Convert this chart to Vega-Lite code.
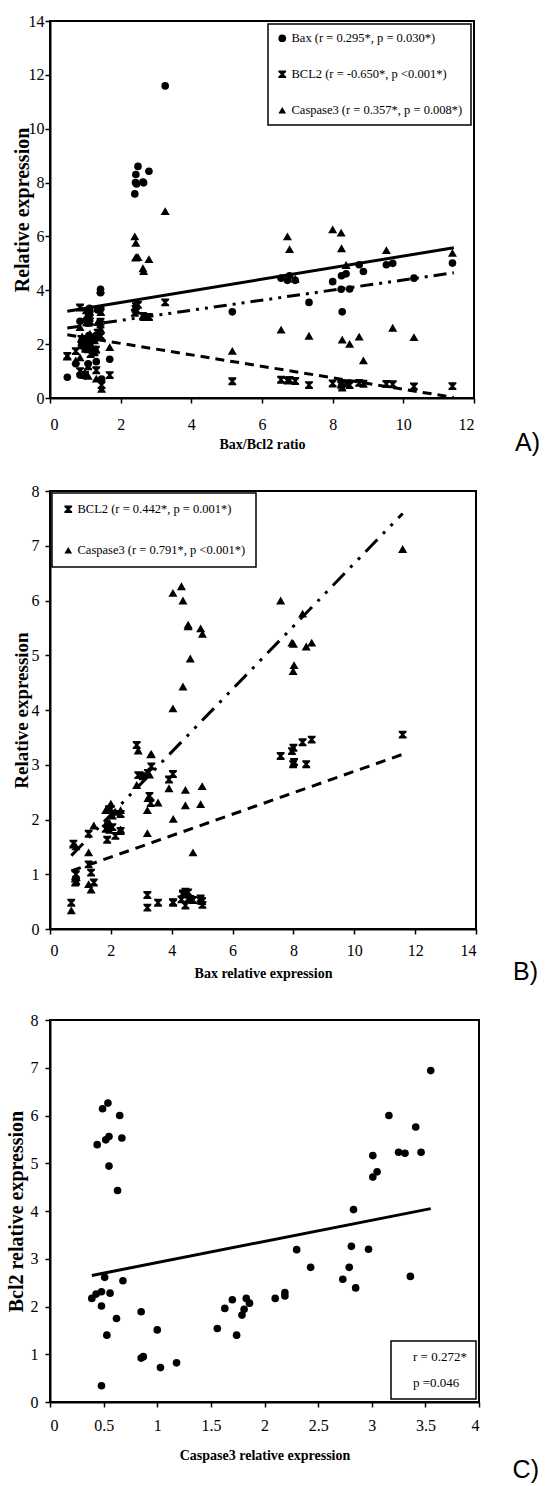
{
  "$schema": "https://vega.github.io/schema/vega-lite/v6.json",
  "background": "white",
  "padding": {"left": 5, "top": 12, "right": 0, "bottom": 0},
  "config": {
    "font": "Liberation Serif",
    "view": {"stroke": "black", "strokeWidth": 2},
    "axis": {"grid": false, "domainColor": "black", "domainWidth": 2, "tickColor": "black", "tickSize": 5, "tickWidth": 1.5, "labelFont": "Liberation Serif", "labelFontSize": 16, "labelColor": "black", "titleFont": "Liberation Serif", "titleFontWeight": "bold", "titleColor": "black"},
    "legend": {"title": null, "strokeColor": "black", "strokeWidth": 1.5, "fillColor": "white", "labelFont": "Liberation Serif", "labelFontSize": 12.5, "labelColor": "black", "symbolFillColor": "black", "symbolStrokeColor": "black", "symbolStrokeWidth": 0, "labelOffset": 3, "labelLimit": 400},
    "title": {"font": "Liberation Sans", "fontSize": 25, "fontWeight": "normal", "color": "black"}
  },
  "datasets": {
    "patients": [
      {"Bax": 11.59, "BCL2": 3.55, "Caspase3": 6.94, "ratio": 3.26},
      {"Bax": 7.58, "BCL2": 3.16, "Caspase3": 6.0, "ratio": 2.40},
      {"Bax": 8.30, "BCL2": 3.41, "Caspase3": 5.76, "ratio": 2.43},
      {"Bax": 7.95, "BCL2": 3.25, "Caspase3": 5.23, "ratio": 2.45},
      {"Bax": 8.00, "BCL2": 3.31, "Caspase3": 5.21, "ratio": 2.42},
      {"Bax": 8.60, "BCL2": 3.46, "Caspase3": 5.23, "ratio": 2.49},
      {"Bax": 8.42, "BCL2": 3.01, "Caspase3": 5.16, "ratio": 2.80},
      {"Bax": 8.02, "BCL2": 3.05, "Caspase3": 4.82, "ratio": 2.63},
      {"Bax": 7.99, "BCL2": 3.01, "Caspase3": 4.71, "ratio": 2.65},
      {"Bax": 4.37, "BCL2": 0.63, "Caspase3": 4.43, "ratio": 6.94},
      {"Bax": 4.61, "BCL2": 0.55, "Caspase3": 4.94, "ratio": 8.38},
      {"Bax": 4.95, "BCL2": 0.52, "Caspase3": 5.49, "ratio": 9.52},
      {"Bax": 4.54, "BCL2": 0.55, "Caspase3": 5.56, "ratio": 8.25},
      {"Bax": 4.54, "BCL2": 0.67, "Caspase3": 5.53, "ratio": 6.78},
      {"Bax": 5.01, "BCL2": 0.44, "Caspase3": 5.39, "ratio": 11.39},
      {"Bax": 4.04, "BCL2": 0.49, "Caspase3": 6.14, "ratio": 8.24},
      {"Bax": 4.32, "BCL2": 0.54, "Caspase3": 6.26, "ratio": 8.00},
      {"Bax": 4.37, "BCL2": 0.65, "Caspase3": 6.0, "ratio": 6.72},
      {"Bax": 3.20, "BCL2": 0.62, "Caspase3": 1.75, "ratio": 5.16},
      {"Bax": 4.45, "BCL2": 0.68, "Caspase3": 2.54, "ratio": 6.54},
      {"Bax": 3.55, "BCL2": 0.48, "Caspase3": 2.31, "ratio": 7.33},
      {"Bax": 3.20, "BCL2": 0.39, "Caspase3": 2.17, "ratio": 8.27},
      {"Bax": 4.05, "BCL2": 0.48, "Caspase3": 2.01, "ratio": 8.48},
      {"Bax": 4.95, "BCL2": 0.56, "Caspase3": 2.28, "ratio": 8.75},
      {"Bax": 4.70, "BCL2": 0.53, "Caspase3": 1.40, "ratio": 8.87},
      {"Bax": 5.00, "BCL2": 0.51, "Caspase3": 2.61, "ratio": 9.70},
      {"Bax": 4.45, "BCL2": 0.43, "Caspase3": 2.26, "ratio": 10.30},
      {"Bax": 4.04, "BCL2": 2.83, "Caspase3": 4.03, "ratio": 1.43},
      {"Bax": 2.90, "BCL2": 2.81, "Caspase3": 3.26, "ratio": 1.03},
      {"Bax": 3.33, "BCL2": 2.97, "Caspase3": 3.20, "ratio": 1.12},
      {"Bax": 3.05, "BCL2": 2.79, "Caspase3": 2.82, "ratio": 1.09},
      {"Bax": 3.91, "BCL2": 2.73, "Caspase3": 2.57, "ratio": 1.43},
      {"Bax": 3.22, "BCL2": 2.85, "Caspase3": 2.39, "ratio": 1.13},
      {"Bax": 2.85, "BCL2": 3.36, "Caspase3": 2.63, "ratio": 0.85},
      {"Bax": 3.31, "BCL2": 2.30, "Caspase3": 3.19, "ratio": 1.44},
      {"Bax": 3.27, "BCL2": 2.43, "Caspase3": 2.82, "ratio": 1.35},
      {"Bax": 2.00, "BCL2": 2.19, "Caspase3": 2.29, "ratio": 0.91},
      {"Bax": 1.94, "BCL2": 2.19, "Caspase3": 2.22, "ratio": 0.89},
      {"Bax": 2.32, "BCL2": 2.10, "Caspase3": 2.17, "ratio": 1.10},
      {"Bax": 1.83, "BCL2": 1.83, "Caspase3": 2.17, "ratio": 1.00},
      {"Bax": 2.05, "BCL2": 1.86, "Caspase3": 2.07, "ratio": 1.10},
      {"Bax": 1.95, "BCL2": 1.81, "Caspase3": 1.94, "ratio": 1.08},
      {"Bax": 2.32, "BCL2": 1.79, "Caspase3": 1.82, "ratio": 1.30},
      {"Bax": 2.15, "BCL2": 1.70, "Caspase3": 2.14, "ratio": 1.26},
      {"Bax": 1.88, "BCL2": 1.63, "Caspase3": 1.96, "ratio": 1.15},
      {"Bax": 1.27, "BCL2": 1.74, "Caspase3": 1.40, "ratio": 0.73},
      {"Bax": 0.77, "BCL2": 1.56, "Caspase3": 1.54, "ratio": 0.49},
      {"Bax": 1.27, "BCL2": 1.18, "Caspase3": 0.82, "ratio": 1.08},
      {"Bax": 1.35, "BCL2": 1.03, "Caspase3": 0.72, "ratio": 1.31},
      {"Bax": 0.85, "BCL2": 1.00, "Caspase3": 1.51, "ratio": 0.85},
      {"Bax": 0.86, "BCL2": 0.87, "Caspase3": 0.95, "ratio": 0.99},
      {"Bax": 0.83, "BCL2": 0.85, "Caspase3": 0.92, "ratio": 0.98},
      {"Bax": 1.44, "BCL2": 0.85, "Caspase3": 1.89, "ratio": 1.69},
      {"Bax": 0.70, "BCL2": 0.48, "Caspase3": 0.34, "ratio": 1.46}
    ],
    "lines": [
      {"panel": "A", "series": "Bax", "x": 0.49, "y": 3.22},
      {"panel": "A", "series": "Bax", "x": 11.43, "y": 5.58},
      {"panel": "A", "series": "BCL2", "x": 0.49, "y": 2.35},
      {"panel": "A", "series": "BCL2", "x": 11.43, "y": 0.02},
      {"panel": "A", "series": "Caspase3", "x": 0.49, "y": 2.6},
      {"panel": "A", "series": "Caspase3", "x": 11.43, "y": 4.65},
      {"panel": "B", "series": "BCL2", "x": 0.7, "y": 1.06},
      {"panel": "B", "series": "BCL2", "x": 11.59, "y": 3.19},
      {"panel": "B", "series": "Caspase3", "x": 0.7, "y": 1.34},
      {"panel": "B", "series": "Caspase3", "x": 11.59, "y": 7.59},
      {"panel": "C", "series": "fit", "x": 0.39, "y": 2.65},
      {"panel": "C", "series": "fit", "x": 3.55, "y": 4.05}
    ],
    "statbox": [
      {"stat": "r = 0.272*"},
      {"stat": "p =0.046"}
    ]
  },
  "columns": 1,
  "spacing": 25,
  "resolve": {"scale": {"shape": "independent", "color": "independent"}, "legend": {"shape": "independent", "color": "independent"}},
  "concat": [
    {
      "width": 424,
      "height": 377,
      "title": {"text": "A)", "orient": "bottom", "anchor": "end", "frame": "group", "dx": 66, "offset": -20},
      "transform": [{"fold": ["Bax", "BCL2", "Caspase3"], "as": ["gene", "expr"]}],
      "data": {"name": "patients"},
      "layer": [
        {
          "transform": [{"filter": "datum.gene == 'Bax'"}],
          "mark": {"type": "point", "filled": true, "color": "black", "opacity": 1, "size": 58},
          "encoding": {
            "x": {"field": "ratio", "type": "quantitative", "scale": {"domain": [0, 12], "nice": false, "zero": true}, "axis": {"values": [0, 2, 4, 6, 8, 10, 12], "title": "Bax/Bcl2 ratio", "titleFontSize": 14, "labelPadding": 13, "titlePadding": 5}},
            "y": {"field": "expr", "type": "quantitative", "scale": {"domain": [0, 14], "nice": false}, "axis": {"values": [0, 2, 4, 6, 8, 10, 12, 14], "title": "Relative expression", "titleFontSize": 20, "labelPadding": 1, "titlePadding": -4}},
            "shape": {"field": "gene", "type": "nominal", "scale": {"domain": ["Bax", "BCL2", "Caspase3"], "range": ["circle", "M-1,-1H1V-0.6L0.35,0L1,0.6V1H-1V0.6L-0.35,0L-1,-0.6Z", "triangle-up"]},
              "legend": {"orient": "top-right", "offset": 3, "padding": 8, "rowPadding": 23, "symbolSize": 60, "labelExpr": "datum.label == 'Bax' ? 'Bax (r = 0.295*, p = 0.030*)' : datum.label == 'BCL2' ? 'BCL2 (r = -0.650*, p <0.001*)' : 'Caspase3 (r = 0.357*, p = 0.008*)'"}}
          }
        },
        {
          "transform": [{"filter": "datum.gene == 'BCL2'"}],
          "mark": {"type": "point", "filled": true, "color": "black", "opacity": 1, "size": 62},
          "encoding": {
            "x": {"field": "ratio", "type": "quantitative"},
            "y": {"field": "expr", "type": "quantitative"},
            "shape": {"field": "gene", "type": "nominal"}
          }
        },
        {
          "transform": [{"filter": "datum.gene == 'Caspase3'"}],
          "mark": {"type": "point", "filled": true, "color": "black", "opacity": 1, "size": 82},
          "encoding": {
            "x": {"field": "ratio", "type": "quantitative"},
            "y": {"field": "expr", "type": "quantitative"},
            "shape": {"field": "gene", "type": "nominal"}
          }
        },
        {
          "data": {"name": "lines"},
          "transform": [{"filter": "datum.panel == 'A' && datum.series == 'Bax'"}],
          "mark": {"type": "line", "color": "black", "strokeWidth": 3},
          "encoding": {"x": {"field": "x", "type": "quantitative"}, "y": {"field": "y", "type": "quantitative"}}
        },
        {
          "data": {"name": "lines"},
          "transform": [{"filter": "datum.panel == 'A' && datum.series == 'BCL2'"}],
          "mark": {"type": "line", "color": "black", "strokeWidth": 3, "strokeDash": [9, 6]},
          "encoding": {"x": {"field": "x", "type": "quantitative"}, "y": {"field": "y", "type": "quantitative"}}
        },
        {
          "data": {"name": "lines"},
          "transform": [{"filter": "datum.panel == 'A' && datum.series == 'Caspase3'"}],
          "mark": {"type": "line", "color": "black", "strokeWidth": 3, "strokeDash": [13, 6, 3, 6, 3, 6]},
          "encoding": {"x": {"field": "x", "type": "quantitative"}, "y": {"field": "y", "type": "quantitative"}}
        }
      ]
    },
    {
      "width": 426,
      "height": 438,
      "title": {"text": "B)", "orient": "bottom", "anchor": "end", "frame": "group", "dx": 62, "offset": -20},
      "data": {"name": "patients"},
      "transform": [{"fold": ["BCL2", "Caspase3"], "as": ["gene", "expr"]}],
      "layer": [
        {
          "transform": [{"filter": "datum.gene == 'BCL2'"}],
          "mark": {"type": "point", "filled": true, "color": "black", "opacity": 1, "size": 62},
          "encoding": {
            "x": {"field": "Bax", "type": "quantitative", "scale": {"domain": [0, 14], "nice": false}, "axis": {"values": [0, 2, 4, 6, 8, 10, 12, 14], "title": "Bax  relative expression", "titleFontSize": 14, "labelPadding": 8, "titlePadding": 8}},
            "y": {"field": "expr", "type": "quantitative", "scale": {"domain": [0, 8], "nice": false}, "axis": {"values": [0, 1, 2, 3, 4, 5, 6, 7, 8], "title": "Relative expression", "titleFontSize": 19, "labelPadding": 6, "titlePadding": 0}},
            "shape": {"field": "gene", "type": "nominal", "scale": {"domain": ["BCL2", "Caspase3"], "range": ["M-1,-1H1V-0.6L0.35,0L1,0.6V1H-1V0.6L-0.35,0L-1,-0.6Z", "triangle-up"]},
              "legend": {"orient": "top-left", "offset": 2, "padding": 10, "rowPadding": 28, "symbolSize": 60, "labelExpr": "datum.label == 'BCL2' ? 'BCL2 (r = 0.442*, p = 0.001*)' : 'Caspase3 (r = 0.791*, p <0.001*)'"}}
          }
        },
        {
          "transform": [{"filter": "datum.gene == 'Caspase3'"}],
          "mark": {"type": "point", "filled": true, "color": "black", "opacity": 1, "size": 82},
          "encoding": {
            "x": {"field": "Bax", "type": "quantitative"},
            "y": {"field": "expr", "type": "quantitative"},
            "shape": {"field": "gene", "type": "nominal"}
          }
        },
        {
          "data": {"name": "lines"},
          "transform": [{"filter": "datum.panel == 'B' && datum.series == 'BCL2'"}],
          "mark": {"type": "line", "color": "black", "strokeWidth": 3, "strokeDash": [10, 7]},
          "encoding": {"x": {"field": "x", "type": "quantitative"}, "y": {"field": "y", "type": "quantitative"}}
        },
        {
          "data": {"name": "lines"},
          "transform": [{"filter": "datum.panel == 'B' && datum.series == 'Caspase3'"}],
          "mark": {"type": "line", "color": "black", "strokeWidth": 3, "strokeDash": [17, 8, 3, 8, 3, 8]},
          "encoding": {"x": {"field": "x", "type": "quantitative"}, "y": {"field": "y", "type": "quantitative"}}
        }
      ]
    },
    {
      "width": 429,
      "height": 382,
      "title": {"text": "C)", "orient": "bottom", "anchor": "end", "frame": "group", "dx": 60, "offset": -4},
      "layer": [
        {
          "data": {"name": "patients"},
          "mark": {"type": "point", "filled": true, "color": "black", "opacity": 1, "size": 58, "shape": "circle"},
          "encoding": {
            "x": {"field": "BCL2", "type": "quantitative", "scale": {"domain": [0, 4], "nice": false}, "axis": {"values": [0, 0.5, 1, 1.5, 2, 2.5, 3, 3.5, 4], "format": "~g", "title": "Caspase3 relative expression", "titleFontSize": 14, "labelPadding": 10, "titlePadding": 15}},
            "y": {"field": "Caspase3", "type": "quantitative", "scale": {"domain": [0, 8], "nice": false}, "axis": {"values": [0, 1, 2, 3, 4, 5, 6, 7, 8], "title": "Bcl2 relative expression", "titleFontSize": 20, "labelPadding": 7, "titlePadding": 4}}
          }
        },
        {
          "data": {"name": "lines"},
          "transform": [{"filter": "datum.panel == 'C'"}],
          "mark": {"type": "line", "color": "black", "strokeWidth": 3},
          "encoding": {"x": {"field": "x", "type": "quantitative"}, "y": {"field": "y", "type": "quantitative"}}
        },
        {
          "data": {"name": "statbox"},
          "mark": {"type": "point", "opacity": 0, "size": 1},
          "encoding": {
            "x": {"datum": 2, "type": "quantitative"},
            "y": {"datum": 4, "type": "quantitative"},
            "color": {"field": "stat", "type": "nominal", "scale": {"domain": ["r = 0.272*", "p =0.046"], "range": ["transparent", "transparent"]},
              "legend": {"orient": "bottom-right", "offset": 3, "padding": 9, "rowPadding": 12, "labelFontSize": 13, "symbolSize": 0, "symbolOpacity": 0, "labelOffset": 0, "symbolStrokeWidth": 0}}
          }
        }
      ]
    }
  ]
}
